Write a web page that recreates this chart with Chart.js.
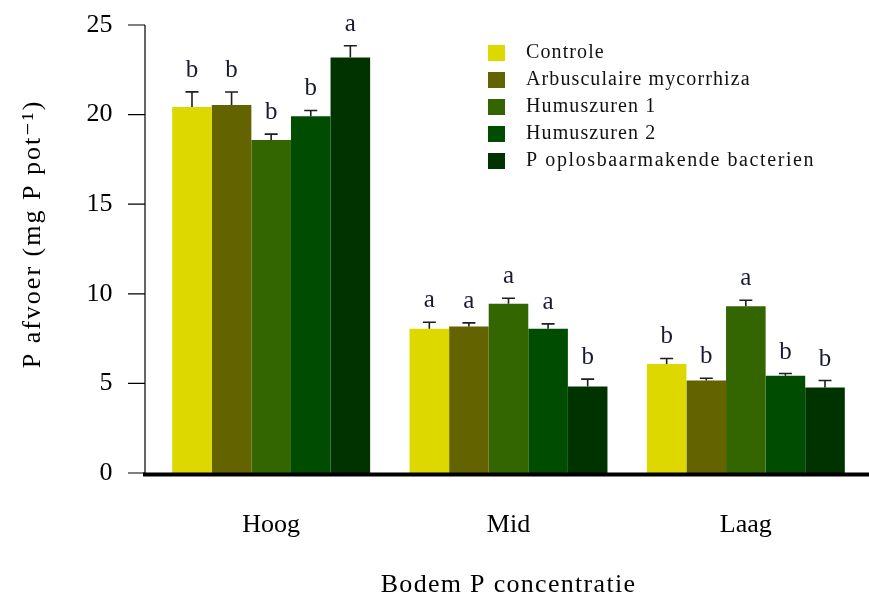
<!DOCTYPE html>
<html>
<head>
<meta charset="utf-8">
<script src="https://cdn.jsdelivr.net/npm/chart.js@4.4.0/dist/chart.umd.min.js"></script>
<style>
  html, body { margin: 0; padding: 0; background: #fff; }
  #c { display: block; }
</style>
</head>
<body>
<canvas id="c" width="869" height="596"></canvas>
<script>
// ---- Data ----
const categories = ['Hoog', 'Mid', 'Laag'];
const seriesNames = ['Controle', 'Arbusculaire mycorrhiza', 'Humuszuren 1', 'Humuszuren 2', 'P oplosbaarmakende bacterien'];
const seriesColors = ['#dcd800', '#636300', '#336600', '#004c00', '#003300'];

const controle      = [20.43, 8.05, 6.08];
const mycorrhiza    = [20.54, 8.18, 5.16];
const humuszuren1   = [18.58, 9.45, 9.30];
const humuszuren2   = [19.91, 8.05, 5.43];
const bacterien     = [23.19, 4.83, 4.77];

const errControle   = [0.84, 0.36, 0.31];
const errMycorrhiza = [0.72, 0.20, 0.13];
const errHumus1     = [0.33, 0.30, 0.34];
const errHumus2     = [0.32, 0.27, 0.12];
const errBacterien  = [0.65, 0.41, 0.39];

const letControle   = ['b', 'a', 'b'];
const letMycorrhiza = ['b', 'a', 'b'];
const letHumus1     = ['b', 'a', 'a'];
const letHumus2     = ['b', 'a', 'b'];
const letBacterien  = ['a', 'b', 'b'];

const yTicks = [0, 5, 10, 15, 20, 25];
const yTitle = 'P afvoer (mg P pot\u207B\u00B9)';
const xTitle = 'Bodem P concentratie';

const values  = [controle, mycorrhiza, humuszuren1, humuszuren2, bacterien];
const errors  = [errControle, errMycorrhiza, errHumus1, errHumus2, errBacterien];
const letters = [letControle, letMycorrhiza, letHumus1, letHumus2, letBacterien];

const SERIF = '"Liberation Serif", "DejaVu Serif", serif';

const datasets = seriesNames.map((name, i) => ({
  label: name,
  data: values[i],
  backgroundColor: seriesColors[i],
  borderWidth: 0,
  categoryPercentage: 0.834,
  barPercentage: 1.0,
  errors: errors[i],
  letters: letters[i]
}));

const annotPlugin = {
  id: 'annot',
  afterDatasetsDraw(chart) {
    const ctx = chart.ctx;
    const y = chart.scales.y;
    ctx.save();
    chart.data.datasets.forEach((ds, i) => {
      const meta = chart.getDatasetMeta(i);
      meta.data.forEach((bar, j) => {
        const v = ds.data[j];
        const e = ds.errors[j];
        const yTop = y.getPixelForValue(v);
        const yErr = y.getPixelForValue(v + e);
        const x = bar.x;
        ctx.strokeStyle = '#1e1e1e';
        ctx.lineWidth = 1.6;
        ctx.beginPath();
        ctx.moveTo(x, yTop);
        ctx.lineTo(x, yErr);
        ctx.moveTo(x - 6.5, yErr);
        ctx.lineTo(x + 6.5, yErr);
        ctx.stroke();
        ctx.fillStyle = '#1a1a33';
        ctx.font = '25px ' + SERIF;
        ctx.textAlign = 'center';
        ctx.textBaseline = 'alphabetic';
        ctx.fillText(ds.letters[j], x, yErr - 15);
      });
    });
    ctx.restore();
  },
  afterDraw(chart) {
    const ctx = chart.ctx;
    const y = chart.scales.y;
    const axX = 145;
    ctx.save();
    // y axis line and ticks
    ctx.strokeStyle = '#000';
    ctx.lineWidth = 1.2;
    ctx.beginPath();
    ctx.moveTo(axX, y.getPixelForValue(0));
    ctx.lineTo(axX, y.getPixelForValue(25));
    y.ticks.forEach(t => {
      const py = y.getPixelForValue(t.value);
      ctx.moveTo(128, py);
      ctx.lineTo(axX, py);
    });
    ctx.stroke();
    // thick x axis line
    ctx.lineWidth = 4;
    ctx.beginPath();
    const y0 = y.getPixelForValue(0) + 1.5;
    ctx.moveTo(143, y0);
    ctx.lineTo(869, y0);
    ctx.stroke();
    ctx.restore();
    // x title
    ctx.save();
    ctx.fillStyle = '#000';
    ctx.font = '26px ' + SERIF;
    ctx.letterSpacing = '1.3px';
    ctx.textAlign = 'center';
    ctx.textBaseline = 'alphabetic';
    ctx.fillText(xTitle, (chart.chartArea.left + chart.chartArea.right) / 2, 592);
    ctx.restore();
    // y title
    ctx.save();
    ctx.fillStyle = '#000';
    ctx.font = '26px ' + SERIF;
    ctx.letterSpacing = '2px';
    ctx.translate(33, 234);
    ctx.rotate(-Math.PI / 2);
    ctx.textAlign = 'center';
    ctx.textBaseline = 'middle';
    ctx.fillText(yTitle, 0, 0);
    ctx.restore();
    // legend
    ctx.save();
    ctx.font = '20px ' + SERIF;
    ctx.textBaseline = 'middle';
    ctx.textAlign = 'left';
    chart.data.datasets.forEach((ds, i) => {
      const cy = 53 + i * 27;
      ctx.fillStyle = ds.backgroundColor;
      ctx.fillRect(488, cy - 8, 17, 16);
      ctx.fillStyle = '#111';
      ctx.letterSpacing = i === 4 ? '1.6px' : '1.1px';
      ctx.fillText(ds.label, 526, cy);
    });
    ctx.restore();
  }
};

new Chart(document.getElementById('c'), {
  type: 'bar',
  data: { labels: categories, datasets },
  plugins: [annotPlugin],
  options: {
    responsive: false,
    devicePixelRatio: 1,
    animation: false,
    layout: { padding: { top: 25, right: 4.5, left: 0, bottom: 0 } },
    plugins: {
      legend: { display: false },
      tooltip: { enabled: false }
    },
    scales: {
      x: {
        grid: { display: false, drawTicks: false },
        border: { display: false },
        ticks: { color: '#000', font: { family: SERIF, size: 26 }, padding: 37 },
        title: { display: false },
        afterFit(scale) { scale.height = 123; scale.paddingLeft = 0; scale.paddingRight = 0; }
      },
      y: {
        min: 0,
        max: 25,
        afterBuildTicks(scale) { scale.ticks = yTicks.map(v => ({ value: v })); },
        grid: { display: false, drawTicks: false },
        border: { display: false },
        ticks: { color: '#000', font: { family: SERIF, size: 26 }, padding: 40 },
        afterFit(scale) { scale.width = 152.5; scale.paddingTop = 0; scale.paddingBottom = 0; }
      }
    }
  }
});
</script>
</body>
</html>
